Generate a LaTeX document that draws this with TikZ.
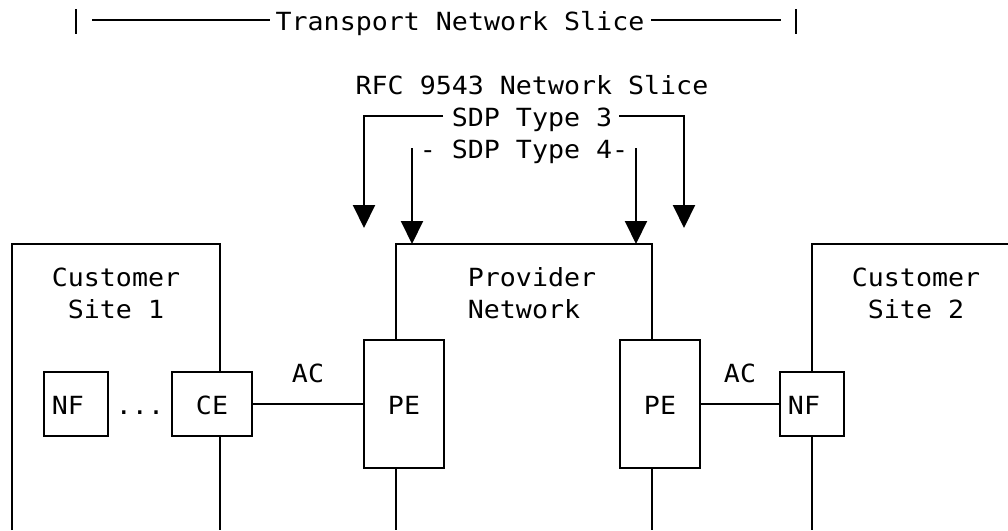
\documentclass[tikz,border=0pt]{standalone}
\usepackage{fontspec}
\usetikzlibrary{arrows.meta}
\newfontfamily\diagmono[FakeStretch=1.065]{DejaVu Sans Mono}
\begin{document}
\begin{tikzpicture}[x=1pt,y=-1pt,
  ln/.style={line width=2pt},
  box/.style={draw, line width=2pt, rectangle, inner sep=0pt},
  txt/.style={font=\diagmono\fontsize{25}{25}\selectfont, inner sep=0pt, anchor=base},
  arr/.style={ln, -{Triangle[width=22pt,length=23pt]}},
]
\useasboundingbox (0,0) rectangle (1008,530);
\fill[white] (0,0) rectangle (1008,530);
\coordinate (bottom) at (0,530);

% top row
\coordinate (barL1) at (76,9);  \coordinate (barL2) at (76,34);
\coordinate (barR1) at (796,9); \coordinate (barR2) at (796,34);
\coordinate (tl1) at (92,20);   \coordinate (tl2) at (270,20);
\coordinate (tr1) at (651,20);  \coordinate (tr2) at (781,20);
\draw[ln] (barL1) -- (barL2);
\draw[ln] (barR1) -- (barR2);
\draw[ln] (tl1) -- (tl2);
\draw[ln] (tr1) -- (tr2);
\node[txt] (tns) at (460,30) {Transport Network Slice};

% slice labels
\node[txt] (rfc) at (532,94) {RFC 9543 Network Slice};
\node[txt] (sdp3) at (532,126) {SDP Type 3};
\node[txt] (sdp4) at (524,158) {- SDP Type 4-};

% boxes
\node[box, minimum width=64pt, minimum height=64pt] (nf1) at (76,404) {};
\node[box, minimum width=80pt, minimum height=64pt] (ce) at (212,404) {};
\node[box, minimum width=80pt, minimum height=128pt] (pe1) at (404,404) {};
\node[box, minimum width=80pt, minimum height=128pt] (pe2) at (660,404) {};
\node[box, minimum width=64pt, minimum height=64pt] (nf2) at (812,404) {};

% box texts
\node[txt] (nf1t) at (68,414) {NF};
\node[txt] (dots) at (140,414) {...};
\node[txt] (cet) at (212,414) {CE};
\node[txt] (ac1) at (308,382) {AC};
\node[txt] (pe1t) at (404,414) {PE};
\node[txt] (pe2t) at (660,414) {PE};
\node[txt] (ac2) at (740,382) {AC};
\node[txt] (nf2t) at (804,414) {NF};

% site labels
\node[txt] (cs1a) at (116,286) {Customer};
\node[txt] (cs1b) at (116,318) {Site 1};
\node[txt] (pna) at (532,286) {Provider};
\node[txt] (pnb) at (524,318) {Network};
\node[txt] (cs2a) at (916,286) {Customer};
\node[txt] (cs2b) at (916,318) {Site 2};

% customer site 1
\coordinate (cs1bl) at (12,530);
\coordinate (cs1tl) at (12,244);
\coordinate (cs1tr) at (220,244);
\draw[ln] (cs1bl) -- (cs1tl) -- (cs1tr) -- (cs1tr |- ce.north);
\draw[ln] (cs1tr |- ce.south) -- (cs1tr |- bottom);

% provider network
\coordinate (pntl) at (396,244);
\coordinate (pntr) at (652,244);
\draw[ln] (pntl |- pe1.north) -- (pntl) -- (pntr) -- (pntr |- pe2.north);
\draw[ln] (pntl |- pe1.south) -- (pntl |- bottom);
\draw[ln] (pntr |- pe2.south) -- (pntr |- bottom);

% customer site 2
\coordinate (cs2tl) at (812,244);
\coordinate (cs2tr) at (1008,244);
\draw[ln] (cs2tr) -- (cs2tl) -- (nf2.north);
\draw[ln] (nf2.south) -- (nf2.south |- bottom);

% attachment circuits
\draw[ln] (ce.east) -- (pe1.west);
\draw[ln] (pe2.east) -- (nf2.west);

% SDP arrows
\coordinate (s3l) at (443,116);
\coordinate (s3lc) at (364,116);
\coordinate (s3lt) at (364,228);
\coordinate (s3r) at (619,116);
\coordinate (s3rc) at (684,116);
\coordinate (s3rt) at (684,228);
\coordinate (s4l) at (412,148);
\coordinate (s4lt) at (412,244);
\coordinate (s4r) at (636,148);
\coordinate (s4rt) at (636,244);
\draw[arr] (s3l) -- (s3lc) -- (s3lt);
\draw[arr] (s3r) -- (s3rc) -- (s3rt);
\draw[arr] (s4l) -- (s4lt);
\draw[arr] (s4r) -- (s4rt);
\end{tikzpicture}
\end{document}
